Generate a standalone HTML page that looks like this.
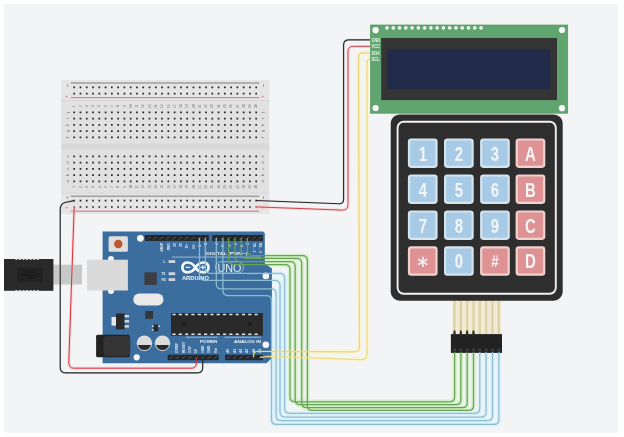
<!DOCTYPE html>
<html><head><meta charset="utf-8"><title>Arduino keypad LCD circuit</title>
<style>html,body{margin:0;padding:0;background:#fff;}svg{display:block;}</style></head>
<body>
<svg width="624" height="437" viewBox="0 0 624 437" font-family="Liberation Sans, sans-serif">
<defs><filter id="soft" x="-5%" y="-5%" width="110%" height="110%"><feGaussianBlur stdDeviation="0.55"/></filter></defs>
<rect width="624" height="437" fill="#fff"/>
<rect x="4" y="4" width="613.8" height="428.8" fill="#f3f4f6"/>
<g filter="url(#soft)">
<g id="breadboard">
<rect x="61.2" y="80.3" width="208.1" height="133.7" fill="#e1e1e1"/>
<rect x="61.2" y="80.3" width="208.1" height="20" fill="#e5e5e5"/>
<rect x="61.2" y="193.5" width="208.1" height="20.5" fill="#e5e5e5"/>
<rect x="61.2" y="143.6" width="208.1" height="6.2" fill="#d8d8d8"/>
<rect x="61.2" y="100" width="208.1" height="0.8" fill="#d8d8d8"/>
<rect x="61.2" y="192.8" width="208.1" height="0.8" fill="#d8d8d8"/>
<rect x="70.7" y="82.4" width="188.6" height="1.2" fill="#8e8e8e"/>
<rect x="70.7" y="97.0" width="188.6" height="1.2" fill="#d4868e"/>
<rect x="70.7" y="195.6" width="188.6" height="1.2" fill="#8e8e8e"/>
<rect x="70.7" y="210.6" width="188.6" height="1.2" fill="#d4868e"/>
<path fill="#262626" d="M73.35 86.45h1.7v1.7h-1.7zM79.63 86.45h1.7v1.7h-1.7zM85.90 86.45h1.7v1.7h-1.7zM92.18 86.45h1.7v1.7h-1.7zM98.45 86.45h1.7v1.7h-1.7zM104.73 86.45h1.7v1.7h-1.7zM111.01 86.45h1.7v1.7h-1.7zM117.28 86.45h1.7v1.7h-1.7zM123.56 86.45h1.7v1.7h-1.7zM129.83 86.45h1.7v1.7h-1.7zM136.11 86.45h1.7v1.7h-1.7zM142.39 86.45h1.7v1.7h-1.7zM148.66 86.45h1.7v1.7h-1.7zM154.94 86.45h1.7v1.7h-1.7zM161.21 86.45h1.7v1.7h-1.7zM167.49 86.45h1.7v1.7h-1.7zM173.77 86.45h1.7v1.7h-1.7zM180.04 86.45h1.7v1.7h-1.7zM186.32 86.45h1.7v1.7h-1.7zM192.59 86.45h1.7v1.7h-1.7zM198.87 86.45h1.7v1.7h-1.7zM205.15 86.45h1.7v1.7h-1.7zM211.42 86.45h1.7v1.7h-1.7zM217.70 86.45h1.7v1.7h-1.7zM223.97 86.45h1.7v1.7h-1.7zM230.25 86.45h1.7v1.7h-1.7zM236.53 86.45h1.7v1.7h-1.7zM242.80 86.45h1.7v1.7h-1.7zM249.08 86.45h1.7v1.7h-1.7zM255.35 86.45h1.7v1.7h-1.7zM73.35 92.75h1.7v1.7h-1.7zM79.63 92.75h1.7v1.7h-1.7zM85.90 92.75h1.7v1.7h-1.7zM92.18 92.75h1.7v1.7h-1.7zM98.45 92.75h1.7v1.7h-1.7zM104.73 92.75h1.7v1.7h-1.7zM111.01 92.75h1.7v1.7h-1.7zM117.28 92.75h1.7v1.7h-1.7zM123.56 92.75h1.7v1.7h-1.7zM129.83 92.75h1.7v1.7h-1.7zM136.11 92.75h1.7v1.7h-1.7zM142.39 92.75h1.7v1.7h-1.7zM148.66 92.75h1.7v1.7h-1.7zM154.94 92.75h1.7v1.7h-1.7zM161.21 92.75h1.7v1.7h-1.7zM167.49 92.75h1.7v1.7h-1.7zM173.77 92.75h1.7v1.7h-1.7zM180.04 92.75h1.7v1.7h-1.7zM186.32 92.75h1.7v1.7h-1.7zM192.59 92.75h1.7v1.7h-1.7zM198.87 92.75h1.7v1.7h-1.7zM205.15 92.75h1.7v1.7h-1.7zM211.42 92.75h1.7v1.7h-1.7zM217.70 92.75h1.7v1.7h-1.7zM223.97 92.75h1.7v1.7h-1.7zM230.25 92.75h1.7v1.7h-1.7zM236.53 92.75h1.7v1.7h-1.7zM242.80 92.75h1.7v1.7h-1.7zM249.08 92.75h1.7v1.7h-1.7zM255.35 92.75h1.7v1.7h-1.7zM73.35 199.75h1.7v1.7h-1.7zM79.63 199.75h1.7v1.7h-1.7zM85.90 199.75h1.7v1.7h-1.7zM92.18 199.75h1.7v1.7h-1.7zM98.45 199.75h1.7v1.7h-1.7zM104.73 199.75h1.7v1.7h-1.7zM111.01 199.75h1.7v1.7h-1.7zM117.28 199.75h1.7v1.7h-1.7zM123.56 199.75h1.7v1.7h-1.7zM129.83 199.75h1.7v1.7h-1.7zM136.11 199.75h1.7v1.7h-1.7zM142.39 199.75h1.7v1.7h-1.7zM148.66 199.75h1.7v1.7h-1.7zM154.94 199.75h1.7v1.7h-1.7zM161.21 199.75h1.7v1.7h-1.7zM167.49 199.75h1.7v1.7h-1.7zM173.77 199.75h1.7v1.7h-1.7zM180.04 199.75h1.7v1.7h-1.7zM186.32 199.75h1.7v1.7h-1.7zM192.59 199.75h1.7v1.7h-1.7zM198.87 199.75h1.7v1.7h-1.7zM205.15 199.75h1.7v1.7h-1.7zM211.42 199.75h1.7v1.7h-1.7zM217.70 199.75h1.7v1.7h-1.7zM223.97 199.75h1.7v1.7h-1.7zM230.25 199.75h1.7v1.7h-1.7zM236.53 199.75h1.7v1.7h-1.7zM242.80 199.75h1.7v1.7h-1.7zM249.08 199.75h1.7v1.7h-1.7zM255.35 199.75h1.7v1.7h-1.7zM73.35 206.15h1.7v1.7h-1.7zM79.63 206.15h1.7v1.7h-1.7zM85.90 206.15h1.7v1.7h-1.7zM92.18 206.15h1.7v1.7h-1.7zM98.45 206.15h1.7v1.7h-1.7zM104.73 206.15h1.7v1.7h-1.7zM111.01 206.15h1.7v1.7h-1.7zM117.28 206.15h1.7v1.7h-1.7zM123.56 206.15h1.7v1.7h-1.7zM129.83 206.15h1.7v1.7h-1.7zM136.11 206.15h1.7v1.7h-1.7zM142.39 206.15h1.7v1.7h-1.7zM148.66 206.15h1.7v1.7h-1.7zM154.94 206.15h1.7v1.7h-1.7zM161.21 206.15h1.7v1.7h-1.7zM167.49 206.15h1.7v1.7h-1.7zM173.77 206.15h1.7v1.7h-1.7zM180.04 206.15h1.7v1.7h-1.7zM186.32 206.15h1.7v1.7h-1.7zM192.59 206.15h1.7v1.7h-1.7zM198.87 206.15h1.7v1.7h-1.7zM205.15 206.15h1.7v1.7h-1.7zM211.42 206.15h1.7v1.7h-1.7zM217.70 206.15h1.7v1.7h-1.7zM223.97 206.15h1.7v1.7h-1.7zM230.25 206.15h1.7v1.7h-1.7zM236.53 206.15h1.7v1.7h-1.7zM242.80 206.15h1.7v1.7h-1.7zM249.08 206.15h1.7v1.7h-1.7zM255.35 206.15h1.7v1.7h-1.7zM73.35 111.45h1.7v1.7h-1.7zM79.63 111.45h1.7v1.7h-1.7zM85.90 111.45h1.7v1.7h-1.7zM92.18 111.45h1.7v1.7h-1.7zM98.45 111.45h1.7v1.7h-1.7zM104.73 111.45h1.7v1.7h-1.7zM111.01 111.45h1.7v1.7h-1.7zM117.28 111.45h1.7v1.7h-1.7zM123.56 111.45h1.7v1.7h-1.7zM129.83 111.45h1.7v1.7h-1.7zM136.11 111.45h1.7v1.7h-1.7zM142.39 111.45h1.7v1.7h-1.7zM148.66 111.45h1.7v1.7h-1.7zM154.94 111.45h1.7v1.7h-1.7zM161.21 111.45h1.7v1.7h-1.7zM167.49 111.45h1.7v1.7h-1.7zM173.77 111.45h1.7v1.7h-1.7zM180.04 111.45h1.7v1.7h-1.7zM186.32 111.45h1.7v1.7h-1.7zM192.59 111.45h1.7v1.7h-1.7zM198.87 111.45h1.7v1.7h-1.7zM205.15 111.45h1.7v1.7h-1.7zM211.42 111.45h1.7v1.7h-1.7zM217.70 111.45h1.7v1.7h-1.7zM223.97 111.45h1.7v1.7h-1.7zM230.25 111.45h1.7v1.7h-1.7zM236.53 111.45h1.7v1.7h-1.7zM242.80 111.45h1.7v1.7h-1.7zM249.08 111.45h1.7v1.7h-1.7zM255.35 111.45h1.7v1.7h-1.7zM73.35 117.70h1.7v1.7h-1.7zM79.63 117.70h1.7v1.7h-1.7zM85.90 117.70h1.7v1.7h-1.7zM92.18 117.70h1.7v1.7h-1.7zM98.45 117.70h1.7v1.7h-1.7zM104.73 117.70h1.7v1.7h-1.7zM111.01 117.70h1.7v1.7h-1.7zM117.28 117.70h1.7v1.7h-1.7zM123.56 117.70h1.7v1.7h-1.7zM129.83 117.70h1.7v1.7h-1.7zM136.11 117.70h1.7v1.7h-1.7zM142.39 117.70h1.7v1.7h-1.7zM148.66 117.70h1.7v1.7h-1.7zM154.94 117.70h1.7v1.7h-1.7zM161.21 117.70h1.7v1.7h-1.7zM167.49 117.70h1.7v1.7h-1.7zM173.77 117.70h1.7v1.7h-1.7zM180.04 117.70h1.7v1.7h-1.7zM186.32 117.70h1.7v1.7h-1.7zM192.59 117.70h1.7v1.7h-1.7zM198.87 117.70h1.7v1.7h-1.7zM205.15 117.70h1.7v1.7h-1.7zM211.42 117.70h1.7v1.7h-1.7zM217.70 117.70h1.7v1.7h-1.7zM223.97 117.70h1.7v1.7h-1.7zM230.25 117.70h1.7v1.7h-1.7zM236.53 117.70h1.7v1.7h-1.7zM242.80 117.70h1.7v1.7h-1.7zM249.08 117.70h1.7v1.7h-1.7zM255.35 117.70h1.7v1.7h-1.7zM73.35 123.95h1.7v1.7h-1.7zM79.63 123.95h1.7v1.7h-1.7zM85.90 123.95h1.7v1.7h-1.7zM92.18 123.95h1.7v1.7h-1.7zM98.45 123.95h1.7v1.7h-1.7zM104.73 123.95h1.7v1.7h-1.7zM111.01 123.95h1.7v1.7h-1.7zM117.28 123.95h1.7v1.7h-1.7zM123.56 123.95h1.7v1.7h-1.7zM129.83 123.95h1.7v1.7h-1.7zM136.11 123.95h1.7v1.7h-1.7zM142.39 123.95h1.7v1.7h-1.7zM148.66 123.95h1.7v1.7h-1.7zM154.94 123.95h1.7v1.7h-1.7zM161.21 123.95h1.7v1.7h-1.7zM167.49 123.95h1.7v1.7h-1.7zM173.77 123.95h1.7v1.7h-1.7zM180.04 123.95h1.7v1.7h-1.7zM186.32 123.95h1.7v1.7h-1.7zM192.59 123.95h1.7v1.7h-1.7zM198.87 123.95h1.7v1.7h-1.7zM205.15 123.95h1.7v1.7h-1.7zM211.42 123.95h1.7v1.7h-1.7zM217.70 123.95h1.7v1.7h-1.7zM223.97 123.95h1.7v1.7h-1.7zM230.25 123.95h1.7v1.7h-1.7zM236.53 123.95h1.7v1.7h-1.7zM242.80 123.95h1.7v1.7h-1.7zM249.08 123.95h1.7v1.7h-1.7zM255.35 123.95h1.7v1.7h-1.7zM73.35 130.20h1.7v1.7h-1.7zM79.63 130.20h1.7v1.7h-1.7zM85.90 130.20h1.7v1.7h-1.7zM92.18 130.20h1.7v1.7h-1.7zM98.45 130.20h1.7v1.7h-1.7zM104.73 130.20h1.7v1.7h-1.7zM111.01 130.20h1.7v1.7h-1.7zM117.28 130.20h1.7v1.7h-1.7zM123.56 130.20h1.7v1.7h-1.7zM129.83 130.20h1.7v1.7h-1.7zM136.11 130.20h1.7v1.7h-1.7zM142.39 130.20h1.7v1.7h-1.7zM148.66 130.20h1.7v1.7h-1.7zM154.94 130.20h1.7v1.7h-1.7zM161.21 130.20h1.7v1.7h-1.7zM167.49 130.20h1.7v1.7h-1.7zM173.77 130.20h1.7v1.7h-1.7zM180.04 130.20h1.7v1.7h-1.7zM186.32 130.20h1.7v1.7h-1.7zM192.59 130.20h1.7v1.7h-1.7zM198.87 130.20h1.7v1.7h-1.7zM205.15 130.20h1.7v1.7h-1.7zM211.42 130.20h1.7v1.7h-1.7zM217.70 130.20h1.7v1.7h-1.7zM223.97 130.20h1.7v1.7h-1.7zM230.25 130.20h1.7v1.7h-1.7zM236.53 130.20h1.7v1.7h-1.7zM242.80 130.20h1.7v1.7h-1.7zM249.08 130.20h1.7v1.7h-1.7zM255.35 130.20h1.7v1.7h-1.7zM73.35 136.45h1.7v1.7h-1.7zM79.63 136.45h1.7v1.7h-1.7zM85.90 136.45h1.7v1.7h-1.7zM92.18 136.45h1.7v1.7h-1.7zM98.45 136.45h1.7v1.7h-1.7zM104.73 136.45h1.7v1.7h-1.7zM111.01 136.45h1.7v1.7h-1.7zM117.28 136.45h1.7v1.7h-1.7zM123.56 136.45h1.7v1.7h-1.7zM129.83 136.45h1.7v1.7h-1.7zM136.11 136.45h1.7v1.7h-1.7zM142.39 136.45h1.7v1.7h-1.7zM148.66 136.45h1.7v1.7h-1.7zM154.94 136.45h1.7v1.7h-1.7zM161.21 136.45h1.7v1.7h-1.7zM167.49 136.45h1.7v1.7h-1.7zM173.77 136.45h1.7v1.7h-1.7zM180.04 136.45h1.7v1.7h-1.7zM186.32 136.45h1.7v1.7h-1.7zM192.59 136.45h1.7v1.7h-1.7zM198.87 136.45h1.7v1.7h-1.7zM205.15 136.45h1.7v1.7h-1.7zM211.42 136.45h1.7v1.7h-1.7zM217.70 136.45h1.7v1.7h-1.7zM223.97 136.45h1.7v1.7h-1.7zM230.25 136.45h1.7v1.7h-1.7zM236.53 136.45h1.7v1.7h-1.7zM242.80 136.45h1.7v1.7h-1.7zM249.08 136.45h1.7v1.7h-1.7zM255.35 136.45h1.7v1.7h-1.7zM73.35 155.45h1.7v1.7h-1.7zM79.63 155.45h1.7v1.7h-1.7zM85.90 155.45h1.7v1.7h-1.7zM92.18 155.45h1.7v1.7h-1.7zM98.45 155.45h1.7v1.7h-1.7zM104.73 155.45h1.7v1.7h-1.7zM111.01 155.45h1.7v1.7h-1.7zM117.28 155.45h1.7v1.7h-1.7zM123.56 155.45h1.7v1.7h-1.7zM129.83 155.45h1.7v1.7h-1.7zM136.11 155.45h1.7v1.7h-1.7zM142.39 155.45h1.7v1.7h-1.7zM148.66 155.45h1.7v1.7h-1.7zM154.94 155.45h1.7v1.7h-1.7zM161.21 155.45h1.7v1.7h-1.7zM167.49 155.45h1.7v1.7h-1.7zM173.77 155.45h1.7v1.7h-1.7zM180.04 155.45h1.7v1.7h-1.7zM186.32 155.45h1.7v1.7h-1.7zM192.59 155.45h1.7v1.7h-1.7zM198.87 155.45h1.7v1.7h-1.7zM205.15 155.45h1.7v1.7h-1.7zM211.42 155.45h1.7v1.7h-1.7zM217.70 155.45h1.7v1.7h-1.7zM223.97 155.45h1.7v1.7h-1.7zM230.25 155.45h1.7v1.7h-1.7zM236.53 155.45h1.7v1.7h-1.7zM242.80 155.45h1.7v1.7h-1.7zM249.08 155.45h1.7v1.7h-1.7zM255.35 155.45h1.7v1.7h-1.7zM73.35 161.70h1.7v1.7h-1.7zM79.63 161.70h1.7v1.7h-1.7zM85.90 161.70h1.7v1.7h-1.7zM92.18 161.70h1.7v1.7h-1.7zM98.45 161.70h1.7v1.7h-1.7zM104.73 161.70h1.7v1.7h-1.7zM111.01 161.70h1.7v1.7h-1.7zM117.28 161.70h1.7v1.7h-1.7zM123.56 161.70h1.7v1.7h-1.7zM129.83 161.70h1.7v1.7h-1.7zM136.11 161.70h1.7v1.7h-1.7zM142.39 161.70h1.7v1.7h-1.7zM148.66 161.70h1.7v1.7h-1.7zM154.94 161.70h1.7v1.7h-1.7zM161.21 161.70h1.7v1.7h-1.7zM167.49 161.70h1.7v1.7h-1.7zM173.77 161.70h1.7v1.7h-1.7zM180.04 161.70h1.7v1.7h-1.7zM186.32 161.70h1.7v1.7h-1.7zM192.59 161.70h1.7v1.7h-1.7zM198.87 161.70h1.7v1.7h-1.7zM205.15 161.70h1.7v1.7h-1.7zM211.42 161.70h1.7v1.7h-1.7zM217.70 161.70h1.7v1.7h-1.7zM223.97 161.70h1.7v1.7h-1.7zM230.25 161.70h1.7v1.7h-1.7zM236.53 161.70h1.7v1.7h-1.7zM242.80 161.70h1.7v1.7h-1.7zM249.08 161.70h1.7v1.7h-1.7zM255.35 161.70h1.7v1.7h-1.7zM73.35 167.95h1.7v1.7h-1.7zM79.63 167.95h1.7v1.7h-1.7zM85.90 167.95h1.7v1.7h-1.7zM92.18 167.95h1.7v1.7h-1.7zM98.45 167.95h1.7v1.7h-1.7zM104.73 167.95h1.7v1.7h-1.7zM111.01 167.95h1.7v1.7h-1.7zM117.28 167.95h1.7v1.7h-1.7zM123.56 167.95h1.7v1.7h-1.7zM129.83 167.95h1.7v1.7h-1.7zM136.11 167.95h1.7v1.7h-1.7zM142.39 167.95h1.7v1.7h-1.7zM148.66 167.95h1.7v1.7h-1.7zM154.94 167.95h1.7v1.7h-1.7zM161.21 167.95h1.7v1.7h-1.7zM167.49 167.95h1.7v1.7h-1.7zM173.77 167.95h1.7v1.7h-1.7zM180.04 167.95h1.7v1.7h-1.7zM186.32 167.95h1.7v1.7h-1.7zM192.59 167.95h1.7v1.7h-1.7zM198.87 167.95h1.7v1.7h-1.7zM205.15 167.95h1.7v1.7h-1.7zM211.42 167.95h1.7v1.7h-1.7zM217.70 167.95h1.7v1.7h-1.7zM223.97 167.95h1.7v1.7h-1.7zM230.25 167.95h1.7v1.7h-1.7zM236.53 167.95h1.7v1.7h-1.7zM242.80 167.95h1.7v1.7h-1.7zM249.08 167.95h1.7v1.7h-1.7zM255.35 167.95h1.7v1.7h-1.7zM73.35 174.20h1.7v1.7h-1.7zM79.63 174.20h1.7v1.7h-1.7zM85.90 174.20h1.7v1.7h-1.7zM92.18 174.20h1.7v1.7h-1.7zM98.45 174.20h1.7v1.7h-1.7zM104.73 174.20h1.7v1.7h-1.7zM111.01 174.20h1.7v1.7h-1.7zM117.28 174.20h1.7v1.7h-1.7zM123.56 174.20h1.7v1.7h-1.7zM129.83 174.20h1.7v1.7h-1.7zM136.11 174.20h1.7v1.7h-1.7zM142.39 174.20h1.7v1.7h-1.7zM148.66 174.20h1.7v1.7h-1.7zM154.94 174.20h1.7v1.7h-1.7zM161.21 174.20h1.7v1.7h-1.7zM167.49 174.20h1.7v1.7h-1.7zM173.77 174.20h1.7v1.7h-1.7zM180.04 174.20h1.7v1.7h-1.7zM186.32 174.20h1.7v1.7h-1.7zM192.59 174.20h1.7v1.7h-1.7zM198.87 174.20h1.7v1.7h-1.7zM205.15 174.20h1.7v1.7h-1.7zM211.42 174.20h1.7v1.7h-1.7zM217.70 174.20h1.7v1.7h-1.7zM223.97 174.20h1.7v1.7h-1.7zM230.25 174.20h1.7v1.7h-1.7zM236.53 174.20h1.7v1.7h-1.7zM242.80 174.20h1.7v1.7h-1.7zM249.08 174.20h1.7v1.7h-1.7zM255.35 174.20h1.7v1.7h-1.7zM73.35 180.45h1.7v1.7h-1.7zM79.63 180.45h1.7v1.7h-1.7zM85.90 180.45h1.7v1.7h-1.7zM92.18 180.45h1.7v1.7h-1.7zM98.45 180.45h1.7v1.7h-1.7zM104.73 180.45h1.7v1.7h-1.7zM111.01 180.45h1.7v1.7h-1.7zM117.28 180.45h1.7v1.7h-1.7zM123.56 180.45h1.7v1.7h-1.7zM129.83 180.45h1.7v1.7h-1.7zM136.11 180.45h1.7v1.7h-1.7zM142.39 180.45h1.7v1.7h-1.7zM148.66 180.45h1.7v1.7h-1.7zM154.94 180.45h1.7v1.7h-1.7zM161.21 180.45h1.7v1.7h-1.7zM167.49 180.45h1.7v1.7h-1.7zM173.77 180.45h1.7v1.7h-1.7zM180.04 180.45h1.7v1.7h-1.7zM186.32 180.45h1.7v1.7h-1.7zM192.59 180.45h1.7v1.7h-1.7zM198.87 180.45h1.7v1.7h-1.7zM205.15 180.45h1.7v1.7h-1.7zM211.42 180.45h1.7v1.7h-1.7zM217.70 180.45h1.7v1.7h-1.7zM223.97 180.45h1.7v1.7h-1.7zM230.25 180.45h1.7v1.7h-1.7zM236.53 180.45h1.7v1.7h-1.7zM242.80 180.45h1.7v1.7h-1.7zM249.08 180.45h1.7v1.7h-1.7zM255.35 180.45h1.7v1.7h-1.7z"/>
<g font-size="4.1" fill="#6a6a6a" text-anchor="middle">
<text x="67.2" y="88.1" font-size="9" fill="#666" transform="rotate(90 67.2 85.5)">-</text>
<text x="67.2" y="200.2" font-size="9" fill="#666" transform="rotate(90 67.2 197.6)">-</text>
<text x="66.60000000000001" y="97.80000000000001" fill="#d9808c" font-size="6">+</text>
<text x="66.60000000000001" y="209.4" fill="#d9808c" font-size="6">+</text>
<text x="263.4" y="88.1" font-size="9" fill="#666" transform="rotate(90 263.4 85.5)">-</text>
<text x="263.4" y="200.2" font-size="9" fill="#666" transform="rotate(90 263.4 197.6)">-</text>
<text x="262.79999999999995" y="97.80000000000001" fill="#d9808c" font-size="6">+</text>
<text x="262.79999999999995" y="209.4" fill="#d9808c" font-size="6">+</text>
<text x="74.20" y="107.4" font-size="3.2" transform="rotate(-90 74.20 106.2)">1</text>
<text x="74.20" y="188.0" font-size="3.2" transform="rotate(-90 74.20 186.8)">1</text>
<text x="80.48" y="107.4" font-size="3.2" transform="rotate(-90 80.48 106.2)">2</text>
<text x="80.48" y="188.0" font-size="3.2" transform="rotate(-90 80.48 186.8)">2</text>
<text x="86.75" y="107.4" font-size="3.2" transform="rotate(-90 86.75 106.2)">3</text>
<text x="86.75" y="188.0" font-size="3.2" transform="rotate(-90 86.75 186.8)">3</text>
<text x="93.03" y="107.4" font-size="3.2" transform="rotate(-90 93.03 106.2)">4</text>
<text x="93.03" y="188.0" font-size="3.2" transform="rotate(-90 93.03 186.8)">4</text>
<text x="99.30" y="107.4" font-size="3.2" transform="rotate(-90 99.30 106.2)">5</text>
<text x="99.30" y="188.0" font-size="3.2" transform="rotate(-90 99.30 186.8)">5</text>
<text x="105.58" y="107.4" font-size="3.2" transform="rotate(-90 105.58 106.2)">6</text>
<text x="105.58" y="188.0" font-size="3.2" transform="rotate(-90 105.58 186.8)">6</text>
<text x="111.86" y="107.4" font-size="3.2" transform="rotate(-90 111.86 106.2)">7</text>
<text x="111.86" y="188.0" font-size="3.2" transform="rotate(-90 111.86 186.8)">7</text>
<text x="118.13" y="107.4" font-size="3.2" transform="rotate(-90 118.13 106.2)">8</text>
<text x="118.13" y="188.0" font-size="3.2" transform="rotate(-90 118.13 186.8)">8</text>
<text x="124.41" y="107.4" font-size="3.2" transform="rotate(-90 124.41 106.2)">9</text>
<text x="124.41" y="188.0" font-size="3.2" transform="rotate(-90 124.41 186.8)">9</text>
<text x="130.68" y="107.4" font-size="3.2" transform="rotate(-90 130.68 106.2)">10</text>
<text x="130.68" y="188.0" font-size="3.2" transform="rotate(-90 130.68 186.8)">10</text>
<text x="136.96" y="107.4" font-size="3.2" transform="rotate(-90 136.96 106.2)">11</text>
<text x="136.96" y="188.0" font-size="3.2" transform="rotate(-90 136.96 186.8)">11</text>
<text x="143.24" y="107.4" font-size="3.2" transform="rotate(-90 143.24 106.2)">12</text>
<text x="143.24" y="188.0" font-size="3.2" transform="rotate(-90 143.24 186.8)">12</text>
<text x="149.51" y="107.4" font-size="3.2" transform="rotate(-90 149.51 106.2)">13</text>
<text x="149.51" y="188.0" font-size="3.2" transform="rotate(-90 149.51 186.8)">13</text>
<text x="155.79" y="107.4" font-size="3.2" transform="rotate(-90 155.79 106.2)">14</text>
<text x="155.79" y="188.0" font-size="3.2" transform="rotate(-90 155.79 186.8)">14</text>
<text x="162.06" y="107.4" font-size="3.2" transform="rotate(-90 162.06 106.2)">15</text>
<text x="162.06" y="188.0" font-size="3.2" transform="rotate(-90 162.06 186.8)">15</text>
<text x="168.34" y="107.4" font-size="3.2" transform="rotate(-90 168.34 106.2)">16</text>
<text x="168.34" y="188.0" font-size="3.2" transform="rotate(-90 168.34 186.8)">16</text>
<text x="174.62" y="107.4" font-size="3.2" transform="rotate(-90 174.62 106.2)">17</text>
<text x="174.62" y="188.0" font-size="3.2" transform="rotate(-90 174.62 186.8)">17</text>
<text x="180.89" y="107.4" font-size="3.2" transform="rotate(-90 180.89 106.2)">18</text>
<text x="180.89" y="188.0" font-size="3.2" transform="rotate(-90 180.89 186.8)">18</text>
<text x="187.17" y="107.4" font-size="3.2" transform="rotate(-90 187.17 106.2)">19</text>
<text x="187.17" y="188.0" font-size="3.2" transform="rotate(-90 187.17 186.8)">19</text>
<text x="193.44" y="107.4" font-size="3.2" transform="rotate(-90 193.44 106.2)">20</text>
<text x="193.44" y="188.0" font-size="3.2" transform="rotate(-90 193.44 186.8)">20</text>
<text x="199.72" y="107.4" font-size="3.2" transform="rotate(-90 199.72 106.2)">21</text>
<text x="199.72" y="188.0" font-size="3.2" transform="rotate(-90 199.72 186.8)">21</text>
<text x="206.00" y="107.4" font-size="3.2" transform="rotate(-90 206.00 106.2)">22</text>
<text x="206.00" y="188.0" font-size="3.2" transform="rotate(-90 206.00 186.8)">22</text>
<text x="212.27" y="107.4" font-size="3.2" transform="rotate(-90 212.27 106.2)">23</text>
<text x="212.27" y="188.0" font-size="3.2" transform="rotate(-90 212.27 186.8)">23</text>
<text x="218.55" y="107.4" font-size="3.2" transform="rotate(-90 218.55 106.2)">24</text>
<text x="218.55" y="188.0" font-size="3.2" transform="rotate(-90 218.55 186.8)">24</text>
<text x="224.82" y="107.4" font-size="3.2" transform="rotate(-90 224.82 106.2)">25</text>
<text x="224.82" y="188.0" font-size="3.2" transform="rotate(-90 224.82 186.8)">25</text>
<text x="231.10" y="107.4" font-size="3.2" transform="rotate(-90 231.10 106.2)">26</text>
<text x="231.10" y="188.0" font-size="3.2" transform="rotate(-90 231.10 186.8)">26</text>
<text x="237.38" y="107.4" font-size="3.2" transform="rotate(-90 237.38 106.2)">27</text>
<text x="237.38" y="188.0" font-size="3.2" transform="rotate(-90 237.38 186.8)">27</text>
<text x="243.65" y="107.4" font-size="3.2" transform="rotate(-90 243.65 106.2)">28</text>
<text x="243.65" y="188.0" font-size="3.2" transform="rotate(-90 243.65 186.8)">28</text>
<text x="249.93" y="107.4" font-size="3.2" transform="rotate(-90 249.93 106.2)">29</text>
<text x="249.93" y="188.0" font-size="3.2" transform="rotate(-90 249.93 186.8)">29</text>
<text x="256.20" y="107.4" font-size="3.2" transform="rotate(-90 256.20 106.2)">30</text>
<text x="256.20" y="188.0" font-size="3.2" transform="rotate(-90 256.20 186.8)">30</text>
<text x="67.3" y="113.5" transform="rotate(-90 67.3 112.3)">j</text>
<text x="262.6" y="113.5" transform="rotate(-90 262.6 112.3)">j</text>
<text x="67.3" y="119.75" transform="rotate(-90 67.3 118.55)">i</text>
<text x="262.6" y="119.75" transform="rotate(-90 262.6 118.55)">i</text>
<text x="67.3" y="126.0" transform="rotate(-90 67.3 124.8)">h</text>
<text x="262.6" y="126.0" transform="rotate(-90 262.6 124.8)">h</text>
<text x="67.3" y="132.25" transform="rotate(-90 67.3 131.05)">g</text>
<text x="262.6" y="132.25" transform="rotate(-90 262.6 131.05)">g</text>
<text x="67.3" y="138.5" transform="rotate(-90 67.3 137.3)">f</text>
<text x="262.6" y="138.5" transform="rotate(-90 262.6 137.3)">f</text>
<text x="67.3" y="157.5" transform="rotate(-90 67.3 156.3)">e</text>
<text x="262.6" y="157.5" transform="rotate(-90 262.6 156.3)">e</text>
<text x="67.3" y="163.75" transform="rotate(-90 67.3 162.55)">d</text>
<text x="262.6" y="163.75" transform="rotate(-90 262.6 162.55)">d</text>
<text x="67.3" y="170.0" transform="rotate(-90 67.3 168.8)">c</text>
<text x="262.6" y="170.0" transform="rotate(-90 262.6 168.8)">c</text>
<text x="67.3" y="176.25" transform="rotate(-90 67.3 175.05)">b</text>
<text x="262.6" y="176.25" transform="rotate(-90 262.6 175.05)">b</text>
<text x="67.3" y="182.5" transform="rotate(-90 67.3 181.3)">a</text>
<text x="262.6" y="182.5" transform="rotate(-90 262.6 181.3)">a</text>
</g>
</g>
<g id="wire-halos">
<path d="M256.3 200.5 L339 203.8 Q343.6 203.9 343.6 199.2 V45 Q343.6 39.8 349 39.8 H370" fill="none" stroke="#999" stroke-width="2.0" stroke-linecap="round" stroke-linejoin="round" opacity="0.2"/>
<path d="M256.3 206.9 L342.5 210.1 Q348 210.2 348 204.6 V51.5 Q348 46.3 353.5 46.3 H370" fill="none" stroke="#f6c0c0" stroke-width="2.8" stroke-linecap="round" stroke-linejoin="round" opacity="0.55"/>
<path d="M74.2 200.6 L66 202.3 Q60.2 203.5 60.2 209.5 V367.5 Q60.2 372.9 65.6 372.9 H197.5 Q202.7 372.9 202.7 367.5 V358" fill="none" stroke="#999" stroke-width="2.0" stroke-linecap="round" stroke-linejoin="round" opacity="0.2"/>
<path d="M74.2 207 L68.8 362 Q68.8 368.2 73.6 368.2 H191.5 Q196.3 368.2 196.3 363.5 V358" fill="none" stroke="#f6bcbc" stroke-width="2.8" stroke-linecap="round" stroke-linejoin="round" opacity="0.55"/>
<path d="M247.4 238 V250.6 Q247.4 255.6 252.4 255.6 H302.4 Q307.4 255.6 307.4 260.6 V405.4 Q307.4 410.4 312.4 410.4 H468.5 Q473.5 410.4 473.5 405.4 V352" fill="none" stroke="#d2f0c6" stroke-width="4.4" stroke-linecap="round" stroke-linejoin="round" opacity="0.9"/>
<path d="M241.2 238 V253.39999999999998 Q241.2 258.4 246.2 258.4 H296.7 Q301.7 258.4 301.7 263.4 V402.7 Q301.7 407.7 306.7 407.7 H462.2 Q467.2 407.7 467.2 402.7 V352" fill="none" stroke="#d2f0c6" stroke-width="4.4" stroke-linecap="round" stroke-linejoin="round" opacity="0.9"/>
<path d="M234.9 238 V256.5 Q234.9 261.5 239.9 261.5 H290.2 Q295.2 261.5 295.2 266.5 V399.7 Q295.2 404.7 300.2 404.7 H455.9 Q460.9 404.7 460.9 399.7 V352" fill="none" stroke="#d2f0c6" stroke-width="4.4" stroke-linecap="round" stroke-linejoin="round" opacity="0.9"/>
<path d="M228.6 238 V259.6 Q228.6 264.6 233.6 264.6 H285 Q290 264.6 290 269.6 V396.8 Q290 401.8 295 401.8 H449.6 Q454.6 401.8 454.6 396.8 V352" fill="none" stroke="#d2f0c6" stroke-width="4.4" stroke-linecap="round" stroke-linejoin="round" opacity="0.9"/>
<path d="M205.3 238 V268.3 Q205.3 273.3 210.3 273.3 H279.6 Q284.6 273.3 284.6 278.3 V408.3 Q284.6 413.3 289.6 413.3 H474.8 Q479.8 413.3 479.8 408.3 V352" fill="none" stroke="#d9f1f9" stroke-width="4.6" stroke-linecap="round" stroke-linejoin="round" opacity="0.9"/>
<path d="M199.5 238 V275.3 Q199.5 280.3 204.5 280.3 H275 Q280 280.3 280 285.3 V412 Q280 417 285 417 H481.1 Q486.1 417 486.1 412 V352" fill="none" stroke="#d9f1f9" stroke-width="4.6" stroke-linecap="round" stroke-linejoin="round" opacity="0.9"/>
<path d="M216.3 238 V283.9 Q216.3 288.9 221.3 288.9 H271.1 Q276.1 288.9 276.1 293.9 V415.7 Q276.1 420.7 281.1 420.7 H487.5 Q492.5 420.7 492.5 415.7 V352" fill="none" stroke="#d9f1f9" stroke-width="4.6" stroke-linecap="round" stroke-linejoin="round" opacity="0.9"/>
<path d="M222.9 238 V290.5 Q222.9 295.5 227.9 295.5 H266.5 Q271.5 295.5 271.5 300.5 V419.4 Q271.5 424.4 276.5 424.4 H493.9 Q498.9 424.4 498.9 419.4 V352" fill="none" stroke="#d9f1f9" stroke-width="4.6" stroke-linecap="round" stroke-linejoin="round" opacity="0.9"/>
<path d="M370 52.8 H363.5 Q358.4 52.8 358.5 58 L359.5 347 Q359.5 351.8 354.5 351.8 L257.5 351.4 Q253.4 351.4 253.4 357" fill="none" stroke="#fbf2c8" stroke-width="3.6" stroke-linecap="round" stroke-linejoin="round" opacity="0.9"/>
<path d="M370 59.4 H369.5 Q367 59.4 367 62 V354 Q367 359.8 361 359.7 L268 356.4 L260 357.3" fill="none" stroke="#fcf4cf" stroke-width="3.6" stroke-linecap="round" stroke-linejoin="round" opacity="0.9"/>
</g>
<g id="lcd">
<rect x="370.5" y="25" width="197.2" height="88.2" fill="#61a46f" stroke="#55965f" stroke-width="0.7"/>
<rect x="381.2" y="38" width="175.8" height="62.1" fill="#343434"/>
<rect x="387.6" y="49.4" width="162.8" height="39.5" fill="#212a48"/>
<circle cx="375.6" cy="30.2" r="3.1" fill="#fafafa"/>
<circle cx="562" cy="30" r="3.1" fill="#fafafa"/>
<circle cx="375.6" cy="108" r="3.1" fill="#fafafa"/>
<circle cx="562" cy="108.2" r="3.1" fill="#fafafa"/>
<circle cx="387.00" cy="27.8" r="1.85" fill="#edf5ee"/>
<circle cx="393.27" cy="27.8" r="1.85" fill="#edf5ee"/>
<circle cx="399.54" cy="27.8" r="1.85" fill="#edf5ee"/>
<circle cx="405.81" cy="27.8" r="1.85" fill="#edf5ee"/>
<circle cx="412.08" cy="27.8" r="1.85" fill="#edf5ee"/>
<circle cx="418.35" cy="27.8" r="1.85" fill="#edf5ee"/>
<circle cx="424.62" cy="27.8" r="1.85" fill="#edf5ee"/>
<circle cx="430.89" cy="27.8" r="1.85" fill="#edf5ee"/>
<circle cx="437.16" cy="27.8" r="1.85" fill="#edf5ee"/>
<circle cx="443.43" cy="27.8" r="1.85" fill="#edf5ee"/>
<circle cx="449.70" cy="27.8" r="1.85" fill="#edf5ee"/>
<circle cx="455.97" cy="27.8" r="1.85" fill="#edf5ee"/>
<circle cx="462.24" cy="27.8" r="1.85" fill="#edf5ee"/>
<circle cx="468.51" cy="27.8" r="1.85" fill="#edf5ee"/>
<circle cx="474.78" cy="27.8" r="1.85" fill="#edf5ee"/>
<circle cx="481.05" cy="27.8" r="1.85" fill="#edf5ee"/>
<g font-size="4.9" font-weight="bold" fill="#eef4ee">
<text x="371.6" y="41.599999999999994" textLength="8.3" lengthAdjust="spacingAndGlyphs">GND</text>
<text x="371.6" y="48.099999999999994" textLength="8.3" lengthAdjust="spacingAndGlyphs">VCC</text>
<text x="371.6" y="54.599999999999994" textLength="8.3" lengthAdjust="spacingAndGlyphs">SDA</text>
<text x="371.6" y="61.199999999999996" textLength="8.3" lengthAdjust="spacingAndGlyphs">SCL</text>
</g></g>
<g id="keypad">
<rect x="452.3" y="299" width="49" height="36" fill="#f1ebd6"/>
<rect x="453.30" y="299" width="2.4" height="36" fill="#dfd2a6"/>
<rect x="459.62" y="299" width="2.4" height="36" fill="#dfd2a6"/>
<rect x="465.94" y="299" width="2.4" height="36" fill="#dfd2a6"/>
<rect x="472.26" y="299" width="2.4" height="36" fill="#dfd2a6"/>
<rect x="478.58" y="299" width="2.4" height="36" fill="#dfd2a6"/>
<rect x="484.90" y="299" width="2.4" height="36" fill="#dfd2a6"/>
<rect x="491.22" y="299" width="2.4" height="36" fill="#dfd2a6"/>
<rect x="497.54" y="299" width="2.4" height="36" fill="#dfd2a6"/>
<rect x="390.7" y="114.4" width="172" height="186.3" rx="9" fill="#2e2e2e"/>
<rect x="397.6" y="121.7" width="158.2" height="172.1" rx="6" fill="none" stroke="#f2f2f2" stroke-width="1.9"/>
<rect x="409.0" y="139.5" width="27.5" height="27.3" rx="2.2" fill="#a7cbe7" stroke="#d6e4ee" stroke-width="2.2"/>
<text transform="translate(422.8 160.5) scale(0.74 1)" font-size="20.2" font-weight="bold" text-anchor="middle" fill="#f3f5f7" stroke="#f3f5f7" stroke-width="0">1</text>
<rect x="445.1" y="139.5" width="27.5" height="27.3" rx="2.2" fill="#a7cbe7" stroke="#d6e4ee" stroke-width="2.2"/>
<text transform="translate(458.9 160.5) scale(0.74 1)" font-size="20.2" font-weight="bold" text-anchor="middle" fill="#f3f5f7" stroke="#f3f5f7" stroke-width="0">2</text>
<rect x="481.20000000000005" y="139.5" width="27.5" height="27.3" rx="2.2" fill="#a7cbe7" stroke="#d6e4ee" stroke-width="2.2"/>
<text transform="translate(495.0 160.5) scale(0.74 1)" font-size="20.2" font-weight="bold" text-anchor="middle" fill="#f3f5f7" stroke="#f3f5f7" stroke-width="0">3</text>
<rect x="516.7" y="139.5" width="27.5" height="27.3" rx="2.2" fill="#df9294" stroke="#f0d2cf" stroke-width="2.2"/>
<text transform="translate(530.5 160.5) scale(0.74 1)" font-size="20.2" font-weight="bold" text-anchor="middle" fill="#f3f5f7" stroke="#f3f5f7" stroke-width="0">A</text>
<rect x="409.0" y="175.5" width="27.5" height="27.3" rx="2.2" fill="#a7cbe7" stroke="#d6e4ee" stroke-width="2.2"/>
<text transform="translate(422.8 196.5) scale(0.74 1)" font-size="20.2" font-weight="bold" text-anchor="middle" fill="#f3f5f7" stroke="#f3f5f7" stroke-width="0">4</text>
<rect x="445.1" y="175.5" width="27.5" height="27.3" rx="2.2" fill="#a7cbe7" stroke="#d6e4ee" stroke-width="2.2"/>
<text transform="translate(458.9 196.5) scale(0.74 1)" font-size="20.2" font-weight="bold" text-anchor="middle" fill="#f3f5f7" stroke="#f3f5f7" stroke-width="0">5</text>
<rect x="481.20000000000005" y="175.5" width="27.5" height="27.3" rx="2.2" fill="#a7cbe7" stroke="#d6e4ee" stroke-width="2.2"/>
<text transform="translate(495.0 196.5) scale(0.74 1)" font-size="20.2" font-weight="bold" text-anchor="middle" fill="#f3f5f7" stroke="#f3f5f7" stroke-width="0">6</text>
<rect x="516.7" y="175.5" width="27.5" height="27.3" rx="2.2" fill="#df9294" stroke="#f0d2cf" stroke-width="2.2"/>
<text transform="translate(530.5 196.5) scale(0.74 1)" font-size="20.2" font-weight="bold" text-anchor="middle" fill="#f3f5f7" stroke="#f3f5f7" stroke-width="0">B</text>
<rect x="409.0" y="211.5" width="27.5" height="27.3" rx="2.2" fill="#a7cbe7" stroke="#d6e4ee" stroke-width="2.2"/>
<text transform="translate(422.8 232.5) scale(0.74 1)" font-size="20.2" font-weight="bold" text-anchor="middle" fill="#f3f5f7" stroke="#f3f5f7" stroke-width="0">7</text>
<rect x="445.1" y="211.5" width="27.5" height="27.3" rx="2.2" fill="#a7cbe7" stroke="#d6e4ee" stroke-width="2.2"/>
<text transform="translate(458.9 232.5) scale(0.74 1)" font-size="20.2" font-weight="bold" text-anchor="middle" fill="#f3f5f7" stroke="#f3f5f7" stroke-width="0">8</text>
<rect x="481.20000000000005" y="211.5" width="27.5" height="27.3" rx="2.2" fill="#a7cbe7" stroke="#d6e4ee" stroke-width="2.2"/>
<text transform="translate(495.0 232.5) scale(0.74 1)" font-size="20.2" font-weight="bold" text-anchor="middle" fill="#f3f5f7" stroke="#f3f5f7" stroke-width="0">9</text>
<rect x="516.7" y="211.5" width="27.5" height="27.3" rx="2.2" fill="#df9294" stroke="#f0d2cf" stroke-width="2.2"/>
<text transform="translate(530.5 232.5) scale(0.74 1)" font-size="20.2" font-weight="bold" text-anchor="middle" fill="#f3f5f7" stroke="#f3f5f7" stroke-width="0">C</text>
<rect x="409.0" y="247.4" width="27.5" height="27.3" rx="2.2" fill="#df9294" stroke="#f0d2cf" stroke-width="2.2"/>
<text transform="translate(422.8 272.8) scale(1 1)" font-size="21" font-family="DejaVu Sans, sans-serif" text-anchor="middle" fill="#f3f5f7" stroke="#f3f5f7" stroke-width="0.3">*</text>
<rect x="445.1" y="247.4" width="27.5" height="27.3" rx="2.2" fill="#a7cbe7" stroke="#d6e4ee" stroke-width="2.2"/>
<text transform="translate(458.9 268.4) scale(0.74 1)" font-size="20.2" font-weight="bold" text-anchor="middle" fill="#f3f5f7" stroke="#f3f5f7" stroke-width="0">0</text>
<rect x="481.20000000000005" y="247.4" width="27.5" height="27.3" rx="2.2" fill="#df9294" stroke="#f0d2cf" stroke-width="2.2"/>
<text transform="translate(495.0 266.8) scale(0.84 1)" font-size="16" font-weight="bold" text-anchor="middle" fill="#f3f5f7" stroke="#f3f5f7" stroke-width="0">#</text>
<rect x="516.7" y="247.4" width="27.5" height="27.3" rx="2.2" fill="#df9294" stroke="#f0d2cf" stroke-width="2.2"/>
<text transform="translate(530.5 268.4) scale(0.74 1)" font-size="20.2" font-weight="bold" text-anchor="middle" fill="#f3f5f7" stroke="#f3f5f7" stroke-width="0">D</text>
<rect x="450.9" y="334.1" width="51.1" height="18.8" fill="#232323"/>
<path d="M453.20 334.3 L453.70 330.6 L455.30 330.6 L455.80 334.3z" fill="#2b2b2b"/>
<path d="M459.52 334.3 L460.02 330.6 L461.62 330.6 L462.12 334.3z" fill="#2b2b2b"/>
<path d="M465.84 334.3 L466.34 330.6 L467.94 330.6 L468.44 334.3z" fill="#2b2b2b"/>
<path d="M472.16 334.3 L472.66 330.6 L474.26 330.6 L474.76 334.3z" fill="#2b2b2b"/>
<rect x="452.90" y="348.5" width="3.2" height="3" fill="#3a3a3a"/>
<rect x="459.22" y="348.5" width="3.2" height="3" fill="#3a3a3a"/>
<rect x="465.54" y="348.5" width="3.2" height="3" fill="#3a3a3a"/>
<rect x="471.86" y="348.5" width="3.2" height="3" fill="#3a3a3a"/>
<rect x="478.18" y="348.5" width="3.2" height="3" fill="#3a3a3a"/>
<rect x="484.50" y="348.5" width="3.2" height="3" fill="#3a3a3a"/>
<rect x="490.82" y="348.5" width="3.2" height="3" fill="#3a3a3a"/>
<rect x="497.14" y="348.5" width="3.2" height="3" fill="#3a3a3a"/>
</g>
<g id="arduino">
<path d="M102.6 231.6 H263.2 L264.8 233.2 V263.4 L271.9 268.6 V358 L266.5 363.3 H102.6z" fill="#3a6e9f"/>
<circle cx="140.4" cy="238.3" r="3.4" fill="#f6f6f6"/>
<circle cx="265.9" cy="275.9" r="3.3" fill="#f6f6f6"/>
<circle cx="265.8" cy="344.8" r="3.3" fill="#f6f6f6"/>
<circle cx="136.7" cy="357.3" r="3.1" fill="#f6f6f6"/>
<circle cx="111" cy="259" r="3" fill="#f6f6f6"/>
<circle cx="111" cy="291" r="3" fill="#f6f6f6"/>
<rect x="108.6" y="236.3" width="19.3" height="15.4" rx="1.5" fill="#dedede"/>
<circle cx="118.3" cy="244" r="4.2" fill="#c0562f"/>
<rect x="87" y="259.7" width="40.9" height="30.8" fill="#dadada"/>
<rect x="144.8" y="235" width="64" height="5.9" fill="#262626"/>
<rect x="212.3" y="235" width="50.6" height="5.9" fill="#262626"/>
<rect x="167.7" y="354.8" width="51" height="5.4" fill="#262626"/>
<rect x="225" y="354.8" width="37.9" height="5.4" fill="#262626"/>
<path fill="none" stroke="#5a5a5a" stroke-width="1" d="M147.10 239.6L149.30 237.4h1.2M153.40 239.6L155.60 237.4h1.2M159.70 239.6L161.90 237.4h1.2M166.00 239.6L168.20 237.4h1.2M172.30 239.6L174.50 237.4h1.2M178.60 239.6L180.80 237.4h1.2M184.90 239.6L187.10 237.4h1.2M191.20 239.6L193.40 237.4h1.2M197.50 239.6L199.70 237.4h1.2M203.80 239.6L206.00 237.4h1.2M214.40 239.6L216.60 237.4h1.2M220.70 239.6L222.90 237.4h1.2M227.00 239.6L229.20 237.4h1.2M233.30 239.6L235.50 237.4h1.2M239.60 239.6L241.80 237.4h1.2M245.90 239.6L248.10 237.4h1.2M252.20 239.6L254.40 237.4h1.2M258.50 239.6L260.70 237.4h1.2M169.30 359L171.50 356.8h1.2M175.67 359L177.87 356.8h1.2M182.04 359L184.24 356.8h1.2M188.41 359L190.61 356.8h1.2M194.78 359L196.98 356.8h1.2M201.15 359L203.35 356.8h1.2M207.52 359L209.72 356.8h1.2M213.89 359L216.09 356.8h1.2M226.60 359L228.80 356.8h1.2M232.96 359L235.16 356.8h1.2M239.32 359L241.52 356.8h1.2M245.68 359L247.88 356.8h1.2M252.04 359L254.24 356.8h1.2M258.40 359L260.60 356.8h1.2"/>
<rect x="144.4" y="272.3" width="12.3" height="12.7" fill="#3a3d42"/>
<rect x="168.6" y="260.20000000000005" width="6.6" height="2.8" fill="#cfd6dc"/>
<rect x="168.6" y="272.3" width="6.6" height="2.8" fill="#cfd6dc"/>
<rect x="168.6" y="278.20000000000005" width="6.6" height="2.8" fill="#cfd6dc"/>
<g font-size="3.2" font-weight="bold" fill="#e8eef4">
<text x="163.6" y="262.8">L</text><text x="161.4" y="274.9">TX</text><text x="161.4" y="280.8">RX</text>
</g>
<path d="M195.45 267.4 C191.5 261.2 182.4 260.6 182.4 267.4 C182.4 274.2 191.5 273.6 195.45 267.4 C199.4 261.2 208.5 260.6 208.5 267.4 C208.5 274.2 199.4 273.6 195.45 267.4z" fill="none" stroke="#f4f7fa" stroke-width="2.7" stroke-linejoin="round"/>
<g stroke="#f4f7fa" stroke-width="1.1"><path d="M185.6 267.4h4.6M200.6 267.4h4.6M202.9 265.1v4.6"/></g>
<text x="195.4" y="280.1" font-size="5.2" font-weight="bold" fill="#f4f7fa" text-anchor="middle" textLength="27" lengthAdjust="spacingAndGlyphs">ARDUINO</text>
<rect x="215.3" y="261.8" width="28.2" height="11.4" rx="5.7" fill="none" stroke="#c9d9e8" stroke-width="0.7"/>
<text x="229.4" y="271.6" font-size="11.5" fill="#e4edf5" text-anchor="middle" textLength="24" lengthAdjust="spacingAndGlyphs">UNO</text>
<text x="226.8" y="254.9" font-size="4.3" font-weight="bold" fill="#e8eef4" text-anchor="middle" textLength="41.5" lengthAdjust="spacingAndGlyphs">DIGITAL (PWM~)</text>
<rect x="172" y="256.7" width="89" height="0.7" fill="#c5d5e4"/>
<g font-size="3.3" font-weight="bold" fill="#e8eef4">
<text x="161.30" y="243" transform="rotate(90 161.30 243)" dy="1.1">AREF</text>
<text x="167.60" y="243" transform="rotate(90 167.60 243)" dy="1.1">GND</text>
<text x="173.90" y="243" transform="rotate(90 173.90 243)" dy="1.1">13</text>
<text x="180.20" y="243" transform="rotate(90 180.20 243)" dy="1.1">12</text>
<text x="186.50" y="243" transform="rotate(90 186.50 243)" dy="1.1">~11</text>
<text x="192.80" y="243" transform="rotate(90 192.80 243)" dy="1.1">~10</text>
<text x="199.10" y="243" transform="rotate(90 199.10 243)" dy="1.1">~9</text>
<text x="205.40" y="243" transform="rotate(90 205.40 243)" dy="1.1">8</text>
<text x="216.00" y="243" transform="rotate(90 216.00 243)" dy="1.1">7</text>
<text x="222.30" y="243" transform="rotate(90 222.30 243)" dy="1.1">~6</text>
<text x="228.60" y="243" transform="rotate(90 228.60 243)" dy="1.1">~5</text>
<text x="234.90" y="243" transform="rotate(90 234.90 243)" dy="1.1">4</text>
<text x="241.20" y="243" transform="rotate(90 241.20 243)" dy="1.1">~3</text>
<text x="247.50" y="243" transform="rotate(90 247.50 243)" dy="1.1">2</text>
<text x="253.80" y="243" transform="rotate(90 253.80 243)" dy="1.1">TX→1</text>
<text x="260.10" y="243" transform="rotate(90 260.10 243)" dy="1.1">RX←0</text>
<text x="177.27" y="353" transform="rotate(-90 177.27 353)" dy="1.1">IOREF</text>
<text x="183.64" y="353" transform="rotate(-90 183.64 353)" dy="1.1">RESET</text>
<text x="190.01" y="353" transform="rotate(-90 190.01 353)" dy="1.1">3.3V</text>
<text x="196.38" y="353" transform="rotate(-90 196.38 353)" dy="1.1">5V</text>
<text x="202.75" y="353" transform="rotate(-90 202.75 353)" dy="1.1">GND</text>
<text x="209.12" y="353" transform="rotate(-90 209.12 353)" dy="1.1">GND</text>
<text x="215.49" y="353" transform="rotate(-90 215.49 353)" dy="1.1">Vin</text>
<text x="228.20" y="353" transform="rotate(-90 228.20 353)" dy="1.1">A0</text>
<text x="234.56" y="353" transform="rotate(-90 234.56 353)" dy="1.1">A1</text>
<text x="240.92" y="353" transform="rotate(-90 240.92 353)" dy="1.1">A2</text>
<text x="247.28" y="353" transform="rotate(-90 247.28 353)" dy="1.1">A3</text>
<text x="253.64" y="353" transform="rotate(-90 253.64 353)" dy="1.1">A4</text>
<text x="260.00" y="353" transform="rotate(-90 260.00 353)" dy="1.1">A5</text>
</g>
<text x="208.7" y="342.6" font-size="4.4" font-weight="bold" fill="#eef3f8" text-anchor="middle" textLength="17.4" lengthAdjust="spacingAndGlyphs">POWER</text>
<text x="247.5" y="342.6" font-size="4.4" font-weight="bold" fill="#eef3f8" text-anchor="middle" textLength="27" lengthAdjust="spacingAndGlyphs">ANALOG IN</text>
<rect x="186" y="336.8" width="31.7" height="0.7" fill="#c5d5e4"/>
<rect x="224.4" y="336.8" width="36.6" height="0.7" fill="#c5d5e4"/>
<rect x="248" y="273" width="9" height="1.2" fill="#b9cbdc" opacity=".8"/>
<rect x="133.3" y="293.5" width="30.2" height="11.9" rx="5.9" fill="#e9e9e9"/>
<rect x="145.2" y="311" width="7.8" height="7.8" fill="#33363b"/>
<rect x="153.3" y="324.6" width="5" height="6.7" fill="#2a2a2a"/>
<rect x="151.9" y="325.4" width="1.6" height="1.6" fill="#ddd"/><rect x="158.2" y="325.4" width="1.6" height="1.6" fill="#ddd"/><rect x="151.9" y="329" width="1.6" height="1.6" fill="#ddd"/>
<rect x="111.5" y="317" width="5" height="8.6" fill="#e6e6e6"/>
<rect x="116" y="313.5" width="8.6" height="15.9" fill="#2a2a2a"/>
<rect x="124.6" y="315.09999999999997" width="4.4" height="2.2" fill="#e0e0e0"/>
<rect x="124.6" y="320.2" width="4.4" height="2.2" fill="#e0e0e0"/>
<rect x="124.6" y="325.29999999999995" width="4.4" height="2.2" fill="#e0e0e0"/>
<rect x="96.1" y="334.8" width="33.6" height="22.4" rx="1.5" fill="#232323"/>
<rect x="103.5" y="336" width="26.8" height="20" rx="4" fill="#343434"/>
<circle cx="144.4" cy="343.3" r="7.7" fill="#dcdcdc"/>
<path d="M137.9 345 A6.7 6.7 0 0 0 150.9 345z" fill="#2b2b2b"/>
<circle cx="162.5" cy="343.3" r="7.7" fill="#dcdcdc"/>
<path d="M156.0 345 A6.7 6.7 0 0 0 169.0 345z" fill="#2b2b2b"/>
<rect x="171" y="313" width="91.9" height="22.6" fill="#2a2a2a"/>
<path fill="#e4e4e4" d="M172.40 313.7h3.2v1.5h-3.2zM172.40 333.4h3.2v1.5h-3.2zM178.72 313.7h3.2v1.5h-3.2zM178.72 333.4h3.2v1.5h-3.2zM185.04 313.7h3.2v1.5h-3.2zM185.04 333.4h3.2v1.5h-3.2zM191.36 313.7h3.2v1.5h-3.2zM191.36 333.4h3.2v1.5h-3.2zM197.68 313.7h3.2v1.5h-3.2zM197.68 333.4h3.2v1.5h-3.2zM204.00 313.7h3.2v1.5h-3.2zM204.00 333.4h3.2v1.5h-3.2zM210.32 313.7h3.2v1.5h-3.2zM210.32 333.4h3.2v1.5h-3.2zM216.64 313.7h3.2v1.5h-3.2zM216.64 333.4h3.2v1.5h-3.2zM222.96 313.7h3.2v1.5h-3.2zM222.96 333.4h3.2v1.5h-3.2zM229.28 313.7h3.2v1.5h-3.2zM229.28 333.4h3.2v1.5h-3.2zM235.60 313.7h3.2v1.5h-3.2zM235.60 333.4h3.2v1.5h-3.2zM241.92 313.7h3.2v1.5h-3.2zM241.92 333.4h3.2v1.5h-3.2zM248.24 313.7h3.2v1.5h-3.2zM248.24 333.4h3.2v1.5h-3.2zM254.56 313.7h3.2v1.5h-3.2zM254.56 333.4h3.2v1.5h-3.2z"/>
<circle cx="184" cy="324" r="1.9" fill="#1a1a1a"/><circle cx="249.8" cy="324" r="1.9" fill="#1a1a1a"/>
</g>
<g id="usb">
<rect x="53" y="264.7" width="29" height="19.8" fill="#c8c8c8"/>
<rect x="4" y="259" width="49.4" height="31.8" fill="#2b2b2b"/>
<path fill="#d0d0d0" d="M15.4 258.6h2v1.3h-2zM15.4 289.9h2v1.3h-2zM18.9 258.6h2v1.3h-2zM18.9 289.9h2v1.3h-2zM22.5 258.6h2v1.3h-2zM22.5 289.9h2v1.3h-2zM26.0 258.6h2v1.3h-2zM26.0 289.9h2v1.3h-2zM29.6 258.6h2v1.3h-2zM29.6 289.9h2v1.3h-2zM33.1 258.6h2v1.3h-2zM33.1 289.9h2v1.3h-2zM36.7 258.6h2v1.3h-2zM36.7 289.9h2v1.3h-2z"/>
<rect x="17" y="267.5" width="26" height="14.5" rx="2" fill="#222"/>
<path d="M22 275h16M26 272h10M28 278h8" stroke="#1a1a1a" stroke-width="1.2" fill="none"/>
</g>
<g id="wires">
<path d="M256.3 200.5 L339 203.8 Q343.6 203.9 343.6 199.2 V45 Q343.6 39.8 349 39.8 H370" fill="none" stroke="#262626" stroke-width="1.15" stroke-linecap="butt" stroke-linejoin="round"/>
<path d="M256.3 206.9 L342.5 210.1 Q348 210.2 348 204.6 V51.5 Q348 46.3 353.5 46.3 H370" fill="none" stroke="#d24448" stroke-width="1.0" stroke-linecap="butt" stroke-linejoin="round"/>
<path d="M74.2 200.6 L66 202.3 Q60.2 203.5 60.2 209.5 V367.5 Q60.2 372.9 65.6 372.9 H197.5 Q202.7 372.9 202.7 367.5 V358" fill="none" stroke="#262626" stroke-width="1.15" stroke-linecap="butt" stroke-linejoin="round"/>
<path d="M74.2 207 L68.8 362 Q68.8 368.2 73.6 368.2 H191.5 Q196.3 368.2 196.3 363.5 V358" fill="none" stroke="#d8303a" stroke-width="1.0" stroke-linecap="butt" stroke-linejoin="round"/>
<path d="M247.4 238 V250.6 Q247.4 255.6 252.4 255.6 H302.4 Q307.4 255.6 307.4 260.6 V405.4 Q307.4 410.4 312.4 410.4 H468.5 Q473.5 410.4 473.5 405.4 V352" fill="none" stroke="#66a354" stroke-width="1.25" stroke-linecap="butt" stroke-linejoin="round"/>
<path d="M241.2 238 V253.39999999999998 Q241.2 258.4 246.2 258.4 H296.7 Q301.7 258.4 301.7 263.4 V402.7 Q301.7 407.7 306.7 407.7 H462.2 Q467.2 407.7 467.2 402.7 V352" fill="none" stroke="#66a354" stroke-width="1.25" stroke-linecap="butt" stroke-linejoin="round"/>
<path d="M234.9 238 V256.5 Q234.9 261.5 239.9 261.5 H290.2 Q295.2 261.5 295.2 266.5 V399.7 Q295.2 404.7 300.2 404.7 H455.9 Q460.9 404.7 460.9 399.7 V352" fill="none" stroke="#66a354" stroke-width="1.25" stroke-linecap="butt" stroke-linejoin="round"/>
<path d="M228.6 238 V259.6 Q228.6 264.6 233.6 264.6 H285 Q290 264.6 290 269.6 V396.8 Q290 401.8 295 401.8 H449.6 Q454.6 401.8 454.6 396.8 V352" fill="none" stroke="#66a354" stroke-width="1.25" stroke-linecap="butt" stroke-linejoin="round"/>
<path d="M205.3 238 V268.3 Q205.3 273.3 210.3 273.3 H279.6 Q284.6 273.3 284.6 278.3 V408.3 Q284.6 413.3 289.6 413.3 H474.8 Q479.8 413.3 479.8 408.3 V352" fill="none" stroke="#8dbccf" stroke-width="1.25" stroke-linecap="butt" stroke-linejoin="round"/>
<path d="M199.5 238 V275.3 Q199.5 280.3 204.5 280.3 H275 Q280 280.3 280 285.3 V412 Q280 417 285 417 H481.1 Q486.1 417 486.1 412 V352" fill="none" stroke="#8dbccf" stroke-width="1.25" stroke-linecap="butt" stroke-linejoin="round"/>
<path d="M216.3 238 V283.9 Q216.3 288.9 221.3 288.9 H271.1 Q276.1 288.9 276.1 293.9 V415.7 Q276.1 420.7 281.1 420.7 H487.5 Q492.5 420.7 492.5 415.7 V352" fill="none" stroke="#8dbccf" stroke-width="1.25" stroke-linecap="butt" stroke-linejoin="round"/>
<path d="M222.9 238 V290.5 Q222.9 295.5 227.9 295.5 H266.5 Q271.5 295.5 271.5 300.5 V419.4 Q271.5 424.4 276.5 424.4 H493.9 Q498.9 424.4 498.9 419.4 V352" fill="none" stroke="#8dbccf" stroke-width="1.25" stroke-linecap="butt" stroke-linejoin="round"/>
<path d="M370 52.8 H363.5 Q358.4 52.8 358.5 58 L359.5 347 Q359.5 351.8 354.5 351.8 L257.5 351.4 Q253.4 351.4 253.4 357" fill="none" stroke="#e9d776" stroke-width="1.25" stroke-linecap="butt" stroke-linejoin="round"/>
<path d="M370 59.4 H369.5 Q367 59.4 367 62 V354 Q367 359.8 361 359.7 L268 356.4 L260 357.3" fill="none" stroke="#ebdb82" stroke-width="1.25" stroke-linecap="butt" stroke-linejoin="round"/>
</g>
</g>
</svg>
</body></html>
